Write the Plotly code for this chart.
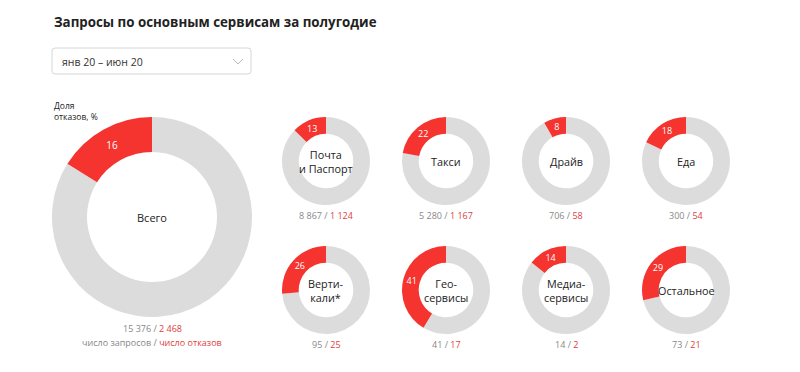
import plotly.graph_objects as go

W, H = 800, 372

title_text = "Запросы по основным сервисам за полугодие"
period_text = "янв 20 – июн 20"

big_name = "Всего"
big_total = 15376
big_fails = 2468

names = ["Почта<br>и Паспорт", "Такси", "Драйв", "Еда",
         "Верти-<br>кали*", "Гео-<br>сервисы", "Медиа-<br>сервисы", "Остальное"]
totals = [8867, 5280, 706, 300, 95, 41, 14, 73]
fails = [1124, 1167, 58, 54, 25, 17, 2, 21]

RED = "#f5332f"
GREY = "#dcdcdc"
RED_TXT = "#e0403c"
GREY_TXT = "#888888"
FONT = "Open Sans"


def fmt(n):
    return f"{n:,}".replace(",", " ")


def px_domain(cx, cy, r):
    return dict(x=[(cx - r) / W, (cx + r) / W], y=[1 - (cy + r) / H, 1 - (cy - r) / H])


fig = go.Figure()
annotations = []


def note(x, y, text, size, color="#222", xanchor="center", align="center"):
    annotations.append(dict(x=x / W, y=1 - y / H, xref="paper", yref="paper",
                            xanchor=xanchor, yanchor="middle", align=align,
                            text=text, showarrow=False,
                            font=dict(size=size, color=color, family=FONT)))


def add_donut(cx, cy, r, name, total, fail, hole, tsize, csize):
    pct = round(100 * fail / total)
    fig.add_trace(go.Pie(
        values=[total - fail, fail],
        labels=["ok", "fail"],
        text=["", str(pct)],
        textinfo="text",
        textposition="inside",
        insidetextorientation="horizontal",
        textfont=dict(color="white", size=tsize, family=FONT),
        marker=dict(colors=[GREY, RED], line=dict(width=0)),
        hole=hole,
        sort=False,
        direction="clockwise",
        rotation=0,
        domain=px_domain(cx, cy, r),
        hoverinfo="skip",
        showlegend=False,
    ))
    note(cx, cy, name, csize, "#222")


# big donut
add_donut(152, 217, 100, big_name, big_total, big_fails, 0.65, 10, 11)
note(152, 328, f"{fmt(big_total)} / <span style='color:{RED_TXT}'>{fmt(big_fails)}</span>", 9, GREY_TXT)
note(152, 342, f"число запросов / <span style='color:{RED_TXT}'>число отказов</span>", 9, GREY_TXT)

xs = [326, 446, 566, 686]
ys = [161, 290]
for i, (nm, t, f) in enumerate(zip(names, totals, fails)):
    cx = xs[i % 4]
    cy = ys[i // 4]
    add_donut(cx, cy, 44, nm, t, f, 0.62, 9, 10.8)
    note(cx, cy + 54, f"{fmt(t)} / <span style='color:{RED_TXT}'>{fmt(f)}</span>", 9, GREY_TXT)

note(52, 22, f"<b>{title_text}</b>", 13.3, "#222", xanchor="left")
note(60, 62, period_text, 10.5, "#333", xanchor="left")
note(52, 111, "Доля<br>отказов, %", 8.5, "#222", xanchor="left", align="left")


def P(x, y):
    return f"{x / W},{1 - y / H}"


x0, x1, y0, y1, rr = 52, 251, 48, 74, 3
box = (f"M {P(x0 + rr, y0)} L {P(x1 - rr, y0)} Q {P(x1, y0)} {P(x1, y0 + rr)} "
       f"L {P(x1, y1 - rr)} Q {P(x1, y1)} {P(x1 - rr, y1)} L {P(x0 + rr, y1)} "
       f"Q {P(x0, y1)} {P(x0, y1 - rr)} L {P(x0, y0 + rr)} Q {P(x0, y0)} {P(x0 + rr, y0)} Z")
shapes = [
    dict(type="path", xref="paper", yref="paper", path=box,
         line=dict(color="#d6d6d6", width=1), fillcolor="white", layer="below"),
    dict(type="path", xref="paper", yref="paper",
         path=f"M {P(233, 59)} L {P(238, 64)} L {P(243, 59)}",
         line=dict(color="#b8b8b8", width=1)),
]

fig.update_layout(
    width=W, height=H,
    margin=dict(l=0, r=0, t=0, b=0),
    paper_bgcolor="white", plot_bgcolor="white",
    annotations=annotations,
    shapes=shapes,
    font=dict(family=FONT),
)

fig.write_html("out.html", config={"displayModeBar": False},
               post_script="document.body.style.margin='0';")
